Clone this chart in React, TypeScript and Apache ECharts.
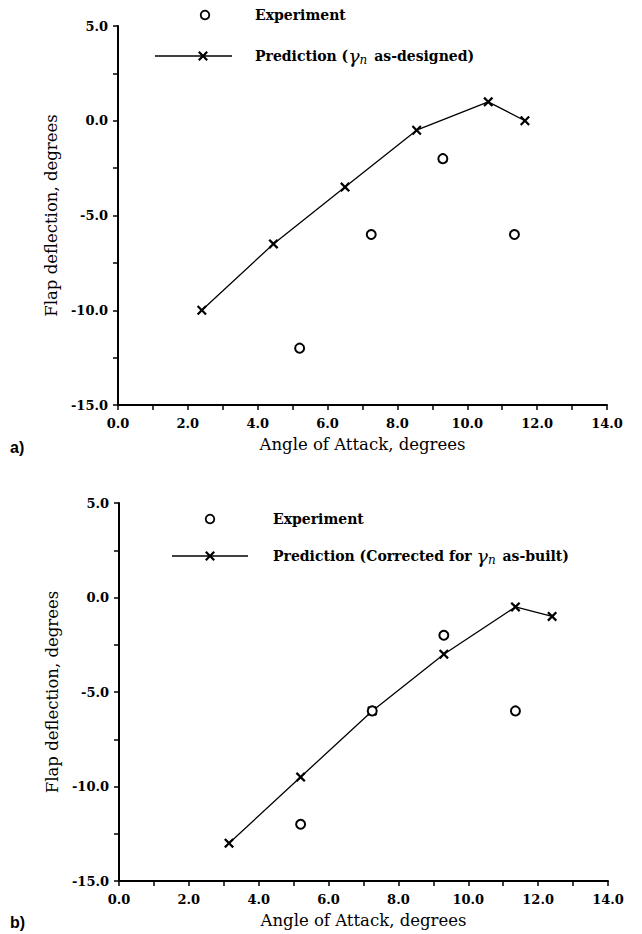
import React, { useEffect, useRef } from "react";
import * as echarts from "echarts";

// ---- data ----
const expX = [5.2, 7.25, 9.3, 11.35];
const expY = [-12, -6, -2, -6];
const predAX = [2.4, 4.45, 6.5, 8.55, 10.6, 11.65];
const predAY = [-10, -6.5, -3.5, -0.5, 1.0, 0.0];
const predBX = [3.15, 5.2, 7.25, 9.3, 11.35, 12.4];
const predBY = [-13, -9.5, -6, -3, -0.5, -1];

const xTicks = { min: 0, max: 14, step: 1, labelEvery: 2 };
const yTicks = { min: -15, max: 5, step: 2.5, labelEvery: 5 };

const SERIF = "DejaVu Serif";
const CROSS =
  "path://M0,1.6L1.6,0L5,3.4L8.4,0L10,1.6L6.6,5L10,8.4L8.4,10L5,6.6L1.6,10L0,8.4L3.4,5Z";

const zip = (xs: number[], ys: number[]) => xs.map((x, i) => [x, ys[i]]);

function xAxisCfg(gridIndex: number) {
  return {
    type: "value",
    gridIndex,
    min: xTicks.min,
    max: xTicks.max,
    interval: xTicks.step,
    name: "Angle of Attack, degrees",
    nameLocation: "middle",
    nameGap: 31,
    nameTextStyle: { fontFamily: SERIF, fontSize: 16.5, color: "#000" },
    axisLine: { onZero: false, lineStyle: { color: "#000", width: 2 } },
    axisTick: { show: true, inside: false, length: 5, lineStyle: { color: "#000", width: 1.5 } },
    axisLabel: {
      margin: 12,
      fontFamily: SERIF,
      fontSize: 13,
      fontWeight: "bold",
      color: "#000",
      formatter: (v: number) =>
        Math.abs(v % xTicks.labelEvery) < 1e-6 ? v.toFixed(1) : "",
    },
    splitLine: { show: false },
  };
}

function yAxisCfg(gridIndex: number) {
  return {
    type: "value",
    gridIndex,
    min: yTicks.min,
    max: yTicks.max,
    interval: yTicks.step,
    name: "Flap deflection, degrees",
    nameLocation: "middle",
    nameGap: 57,
    nameTextStyle: { fontFamily: SERIF, fontSize: 16.5, color: "#000" },
    axisLine: { onZero: false, lineStyle: { color: "#000", width: 2 } },
    axisTick: { show: true, inside: false, length: 5, lineStyle: { color: "#000", width: 1.5 } },
    axisLabel: {
      margin: 10,
      fontFamily: SERIF,
      fontSize: 13,
      fontWeight: "bold",
      color: "#000",
      formatter: (v: number) =>
        Math.abs(v % yTicks.labelEvery) < 1e-6 ? v.toFixed(1) : "",
    },
    splitLine: { show: false },
  };
}

function crossGraphic(cx: number, cy: number, s: number) {
  const h = s / 2;
  const t = s * 0.16;
  return {
    type: "polygon",
    shape: {
      points: [
        [cx - h, cy - h + t], [cx - h + t, cy - h], [cx, cy - t], [cx + h - t, cy - h],
        [cx + h, cy - h + t], [cx + t, cy], [cx + h, cy + h - t], [cx + h - t, cy + h],
        [cx, cy + t], [cx - h + t, cy + h], [cx - h, cy + h - t], [cx - t, cy],
      ],
    },
    style: { fill: "#000" },
  };
}

const legendRich = {
  g: { fontFamily: SERIF, fontStyle: "italic", fontSize: 19, fill: "#000" },
  s: { fontFamily: SERIF, fontStyle: "italic", fontSize: 12, fill: "#000", padding: [8, 2, 0, 0] },
};

function legend(
  circleX: number, row1: number, lineX0: number, lineX1: number, crossX: number,
  row2: number, textX: number, predText: string
) {
  return [
    { type: "circle", shape: { cx: circleX, cy: row1, r: 4.3 }, style: { fill: "none", stroke: "#000", lineWidth: 1.8 } },
    {
      type: "text", x: textX, y: row1,
      style: { text: "Experiment", fontFamily: SERIF, fontWeight: "bold", fontSize: 14, fill: "#000", verticalAlign: "middle" },
    },
    { type: "line", shape: { x1: lineX0, y1: row2, x2: lineX1, y2: row2 }, style: { stroke: "#000", lineWidth: 1.5 } },
    crossGraphic(crossX, row2, 10),
    {
      type: "text", x: textX, y: row2,
      style: {
        text: predText, fontFamily: SERIF, fontWeight: "bold", fontSize: 14, fill: "#000",
        verticalAlign: "middle", rich: legendRich,
      },
    },
  ];
}

function seriesFor(idx: number, px: number[], py: number[]) {
  return [
    {
      type: "scatter",
      xAxisIndex: idx,
      yAxisIndex: idx,
      data: zip(expX, expY),
      symbol: "emptyCircle",
      symbolSize: 9,
      itemStyle: { color: "#000", borderColor: "#000", borderWidth: 1.9, opacity: 1 },
      z: 3,
    },
    {
      type: "line",
      xAxisIndex: idx,
      yAxisIndex: idx,
      data: zip(px, py),
      symbol: CROSS,
      symbolSize: 10,
      showSymbol: true,
      itemStyle: { color: "#000" },
      lineStyle: { color: "#000", width: 1.3 },
      z: 2,
    },
  ];
}

export default function App() {
  const ref = useRef<HTMLDivElement>(null);
  useEffect(() => {
    const chart = echarts.init(ref.current!, null, { renderer: "svg" });
    chart.setOption({
      animation: false,
      backgroundColor: "#fff",
      grid: [
        { left: 118, top: 26, width: 489, height: 379, outerBoundsMode: "none" },
        { left: 119, top: 503, width: 489, height: 378, outerBoundsMode: "none" },
      ],
      xAxis: [xAxisCfg(0), xAxisCfg(1)],
      yAxis: [yAxisCfg(0), yAxisCfg(1)],
      series: [...seriesFor(0, predAX, predAY), ...seriesFor(1, predBX, predBY)],
      graphic: [
        ...legend(205, 15, 155, 232, 203, 56, 255, "Prediction ({g|γ}{s|n} as-designed)"),
        ...legend(210, 519, 172, 248, 210, 556, 273, "Prediction (Corrected for {g|γ}{s|n} as-built)"),
        {
          type: "text", x: 10, y: 447,
          style: { text: "a)", fontFamily: "Liberation Sans", fontWeight: "bold", fontSize: 16, fill: "#000", verticalAlign: "middle" },
        },
        {
          type: "text", x: 10, y: 922,
          style: { text: "b)", fontFamily: "Liberation Sans", fontWeight: "bold", fontSize: 16, fill: "#000", verticalAlign: "middle" },
        },
      ],
    });
    return () => chart.dispose();
  }, []);
  return (
    <div
      ref={ref}
      style={{ position: "absolute", left: 0, top: 0, width: 642, height: 934 }}
    />
  );
}
